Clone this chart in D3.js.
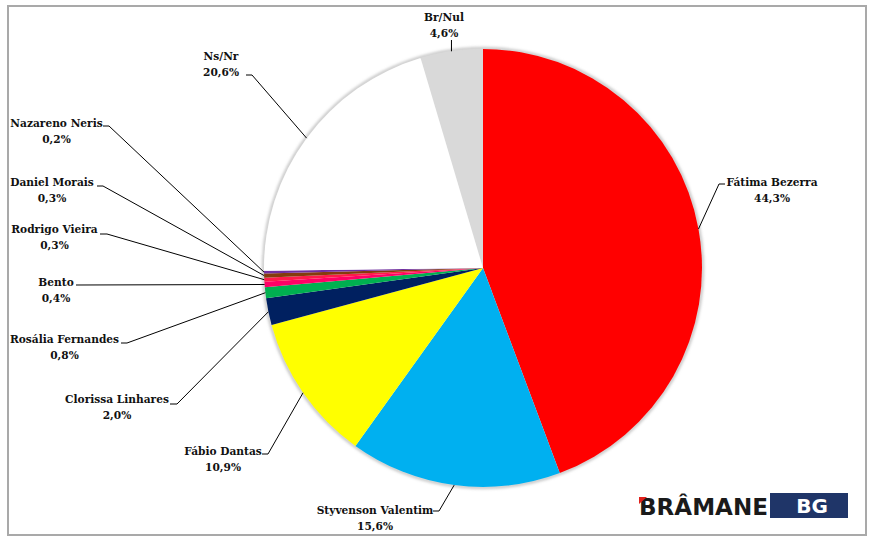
<!DOCTYPE html>
<html>
<head>
<meta charset="utf-8">
<script src="https://cdn.jsdelivr.net/npm/d3@7"></script>
<style>
  html, body { margin: 0; padding: 0; background: #fff; }
  svg { display: block; }
  .lbl { font-family: "DejaVu Serif", "Liberation Serif", serif; font-weight: bold; font-size: 11.8px; fill: #111; }
  .logo { font-family: "DejaVu Sans", "Liberation Sans", sans-serif; font-weight: bold; }
</style>
</head>
<body>
<script>
// ---- data ----
const categories = ["Fátima Bezerra", "Styvenson Valentim", "Fábio Dantas", "Clorissa Linhares",
  "Rosália Fernandes", "Bento", "Rodrigo Vieira", "Daniel Morais", "Nazareno Neris", "Ns/Nr", "Br/Nul"];
const values = [44.3, 15.6, 10.9, 2.0, 0.8, 0.4, 0.3, 0.3, 0.2, 20.6, 4.6];
const valueLabels = ["44,3%", "15,6%", "10,9%", "2,0%", "0,8%", "0,4%", "0,3%", "0,3%", "0,2%", "20,6%", "4,6%"];
const colors = ["#ff0000", "#00b0f0", "#ffff00", "#002060", "#00b050", "#ff0066", "#ff1a4a",
  "#843c0c", "#7030a0", "#ffffff", "#d9d9d9"];

// ---- label layout (text centre x, name baseline y, elbow x/y, tick length) ----
const labelLayout = [
  { tx: 772, ty: 186, ex: 719, ey: 184, tick: 6 },
  { tx: 375, ty: 514, ex: 439, ey: 511, tick: -6 },
  { tx: 223, ty: 455, ex: 268, ey: 454, tick: -6 },
  { tx: 117, ty: 403, ex: 177, ey: 404, tick: -7 },
  { tx: 64.5, ty: 343, ex: 127, ey: 343, tick: -6 },
  { tx: 56, ty: 286, ex: 76, ey: 285, tick: 0 },
  { tx: 54.5, ty: 233, ex: 107, ey: 234, tick: -7 },
  { tx: 52, ty: 186, ex: 103, ey: 186, tick: -6 },
  { tx: 56.5, ty: 127, ex: 109, ey: 126, tick: -6 },
  { tx: 221, ty: 60, ex: 252, ey: 75, tick: -6 },
  { tx: 444, ty: 21, ex: null, ey: 40, tick: 0 }
];

const W = 878, H = 540;
const cx = 483, cy = 268, R = 219;

const svg = d3.select("body").append("svg").attr("width", W).attr("height", H);

const defs = svg.append("defs");
const f = defs.append("filter").attr("id", "blur").attr("x", "-10%").attr("y", "-10%").attr("width", "120%").attr("height", "120%");
f.append("feGaussianBlur").attr("stdDeviation", 1.6);

// frame
svg.append("rect").attr("x", 8).attr("y", 6).attr("width", 858).attr("height", 529)
  .attr("fill", "none").attr("stroke", "#a9a9a9").attr("stroke-width", 2);

const data = categories.map((c, i) => ({ name: c, value: values[i], label: valueLabels[i], color: colors[i], lay: labelLayout[i] }));

const pie = d3.pie().sort(null).value(d => d.value);
const arcs = pie(data);
const arc = d3.arc().innerRadius(0).outerRadius(R);
const edge = d3.arc().innerRadius(R).outerRadius(R);

const g = svg.append("g").attr("transform", `translate(${cx},${cy})`);

// soft shadow ring
g.append("circle").attr("r", R + 0.5).attr("fill", "none").attr("stroke", "#b8b8b8")
  .attr("stroke-width", 2.5).attr("filter", "url(#blur)");

g.selectAll("path.slice").data(arcs).join("path")
  .attr("class", "slice")
  .attr("d", arc)
  .attr("fill", d => d.data.color);

// leader lines
const lines = svg.append("g");
arcs.forEach(d => {
  const [px, py] = edge.centroid(d);
  const ax = px + cx, ay = py + cy;
  const L = d.data.lay;
  const ex = L.ex === null ? ax : L.ex;
  const pts = [[ax, ay], [ex, L.ey], [ex + L.tick, L.ey]];
  lines.append("path")
    .attr("d", d3.line()(pts))
    .attr("fill", "none").attr("stroke", "#000").attr("stroke-width", 1);
});

// labels (serif bold, slightly condensed to mimic Times Bold widths)
const labels = svg.append("g").attr("text-anchor", "middle");
data.forEach(d => {
  labels.append("text").attr("class", "lbl")
    .attr("transform", `translate(${d.lay.tx},${d.lay.ty}) scale(0.9,1)`).text(d.name);
  labels.append("text").attr("class", "lbl")
    .attr("transform", `translate(${d.lay.tx},${d.lay.ty + 15.5}) scale(0.9,1)`).text(d.label);
});

// logo
const logo = svg.append("g");
logo.append("text").attr("class", "logo").attr("x", 639).attr("y", 515)
  .attr("font-size", 23).attr("fill", "#1a1a1a")
  .attr("textLength", 129).attr("lengthAdjust", "spacingAndGlyphs")
  .text("BRÂMANE");
logo.append("path").attr("d", "M639,497 L647,497 L639,504 Z").attr("fill", "#e0201b");
logo.append("rect").attr("x", 770).attr("y", 493).attr("width", 78).attr("height", 25).attr("fill", "#1f3568");
logo.append("text").attr("class", "logo").attr("x", 812).attr("y", 513)
  .attr("text-anchor", "middle")
  .attr("font-size", 20).attr("fill", "#ffffff")
  .text("BG");
</script>
</body>
</html>
